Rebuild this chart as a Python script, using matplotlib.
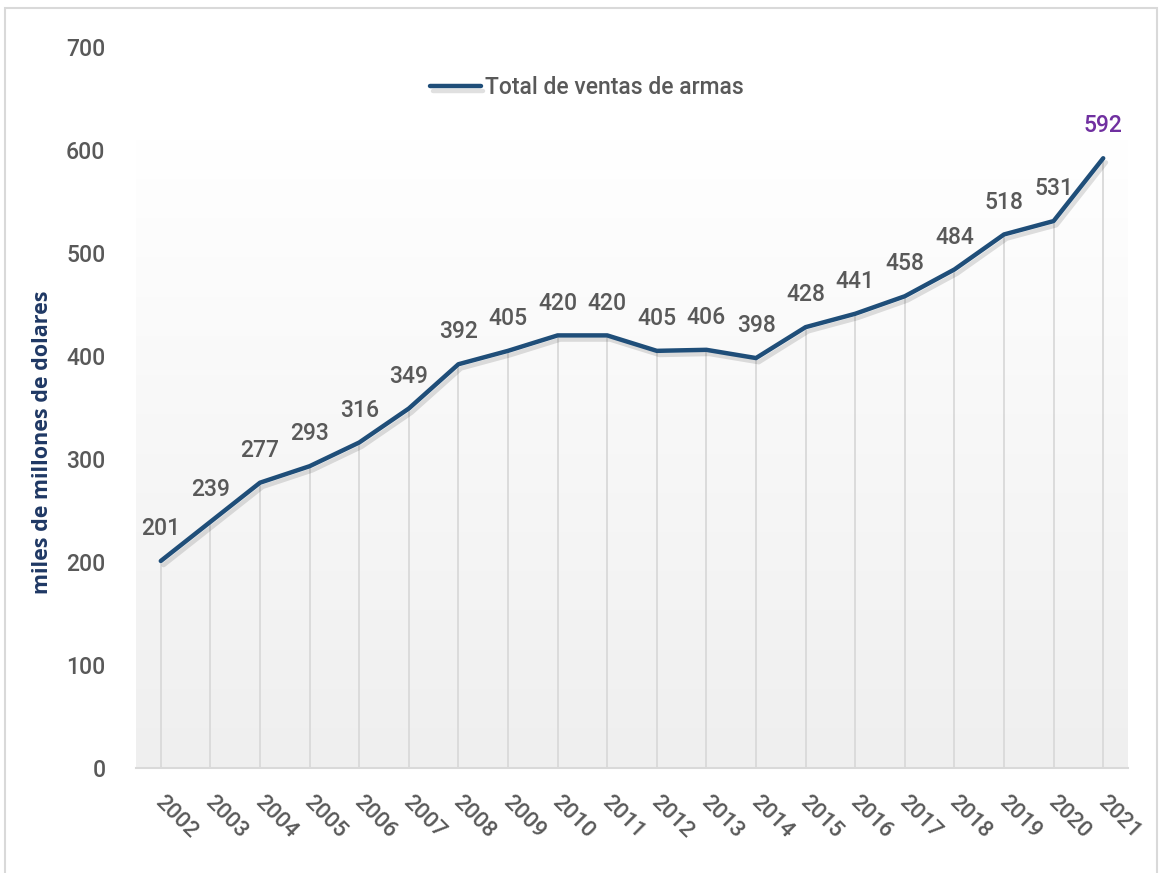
import numpy as np
import matplotlib
matplotlib.use('Agg')
import matplotlib.pyplot as plt
import matplotlib.patheffects as pe
from matplotlib.patches import Rectangle

# --- DATA ---
years = [2002, 2003, 2004, 2005, 2006, 2007, 2008, 2009, 2010, 2011,
         2012, 2013, 2014, 2015, 2016, 2017, 2018, 2019, 2020, 2021]
ventas = [201, 239, 277, 293, 316, 349, 392, 405, 420, 420,
          405, 406, 398, 428, 441, 458, 484, 518, 531, 592]
yticks = [0, 100, 200, 300, 400, 500, 600, 700]

LINE_COLOR = '#1F4E79'
TEXT_GRAY = '#595959'
FONT = 'Roboto'

fig = plt.figure(figsize=(11.59, 8.73), dpi=100)
ax = fig.add_axes([136 / 1159, 105 / 873, (1128 - 136) / 1159, (768 - 47) / 873])

x = np.arange(len(years))
ax.set_xlim(-0.5, len(years) - 0.5)
ax.set_ylim(0, 700)

# gradient background (white at top -> light gray at bottom), up to ~610
grad = np.linspace(0, 1, 256).reshape(-1, 1)
ax.imshow(grad, extent=(-0.5, len(years) - 0.5, 0, 610), aspect='auto',
          cmap=matplotlib.colors.LinearSegmentedColormap.from_list('g', ['#efefef', '#ffffff']),
          zorder=0, origin='lower')

# drop lines
ax.vlines(x, 0, ventas, color='#d9d9d9', lw=1.3, zorder=1)

line, = ax.plot(x, ventas, color=LINE_COLOR, lw=3.2, solid_capstyle='round',
                solid_joinstyle='round', zorder=3, label='Total de ventas de armas',
                path_effects=[pe.SimpleLineShadow(offset=(2, -3), shadow_color='#000000', alpha=0.12, rho=1),
                              pe.Normal()])

for i, v in enumerate(ventas):
    col = '#7030A0' if i == len(ventas) - 1 else TEXT_GRAY
    ax.annotate(str(v), (x[i], v), xytext=(0, 15), textcoords='offset points',
                ha='center', va='bottom', fontsize=16.5, color=col, family=FONT,
                fontweight='medium', zorder=4)

ax.set_yticks(yticks)
ax.set_yticklabels([str(t) for t in yticks], fontsize=16.5, color=TEXT_GRAY,
                   family=FONT, fontweight='medium')
ax.set_xticks(x)
ax.set_xticklabels([str(y) for y in years], fontsize=16, color=TEXT_GRAY,
                   family=FONT, fontweight='medium', rotation=-45,
                   ha='left', va='top', rotation_mode='anchor')
ax.tick_params(axis='both', length=0)
ax.tick_params(axis='y', pad=22)
ax.tick_params(axis='x', pad=17)
for lab in ax.get_xticklabels():
    lab.set_transform(lab.get_transform() + matplotlib.transforms.ScaledTranslation(5 / 100, 0, fig.dpi_scale_trans))

for s in ['top', 'right', 'left']:
    ax.spines[s].set_visible(False)
ax.spines['bottom'].set_color('#d9d9d9')
ax.spines['bottom'].set_linewidth(1.5)

fig.text(43 / 1159, 1 - 442 / 873, 'miles de millones de dolares', rotation=90,
         ha='center', va='center', fontsize=15.5, color='#1F3864', family='Open Sans',
         fontweight='bold')

leg = ax.legend(handles=[line], loc='center', bbox_to_anchor=(587 / 1159, 1 - 88 / 873),
                bbox_transform=fig.transFigure, frameon=False, handlelength=2.2,
                handletextpad=0.2, prop={'family': FONT, 'size': 16.5, 'weight': 'medium'})
for t in leg.get_texts():
    t.set_color(TEXT_GRAY)

# outer border
fig.patches.append(Rectangle((5 / 1159, -0.01), 1152 / 1159, 1 - 8 / 873 + 0.01,
                             transform=fig.transFigure, fill=False,
                             edgecolor='#d9d9d9', lw=1.5, zorder=10))

fig.savefig('out.png', dpi=100)
